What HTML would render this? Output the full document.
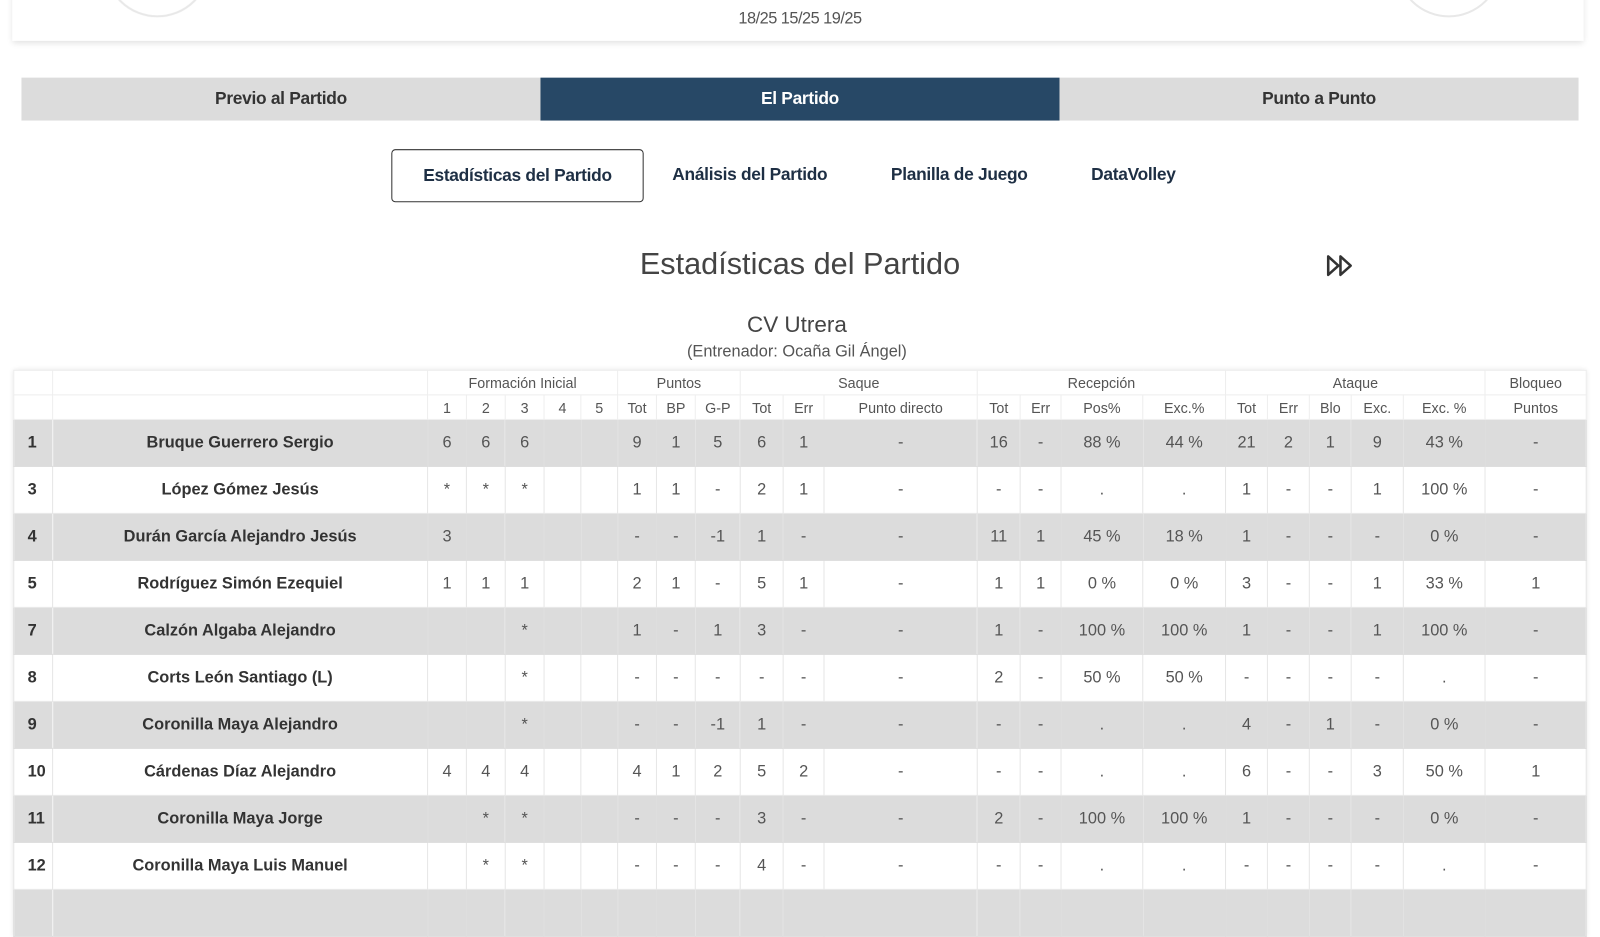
<!DOCTYPE html>
<html><head><meta charset="utf-8">
<style>
body{margin:0;width:1600px;height:900px;overflow:hidden;background:#fff;font-family:"Liberation Sans",sans-serif;position:relative}
#wrap{position:absolute;left:0;top:0;width:1566px;height:881px;transform:scale(1.0217);transform-origin:0 0}
.abs{position:absolute}
.card{left:12px;top:-20px;width:1538px;height:60px;box-shadow:0 2px 6px rgba(0,0,0,.12);background:#fff}
.circ{width:100px;height:100px;border-radius:50%;border:2px solid #e8e8e8;top:-87px;background:#fff}
.score{left:0;width:1566px;top:10px;text-align:center;font-size:16px;color:#555;letter-spacing:-0.5px}
.tabs{left:21px;top:76px;width:1524px;height:42px;display:flex}
.tab{flex:1;background:#dcdcdc;display:flex;align-items:center;justify-content:center;font-weight:bold;font-size:17px;color:#333;letter-spacing:-0.3px}
.tab.act{background:#274866;color:#fff}
.sub{top:146px;height:50px;display:flex;align-items:center;font-size:17px;font-weight:bold;color:#1e2f44;letter-spacing:-0.3px}
.subbtn{left:383px;width:245px;border:1px solid #333;border-radius:4px;justify-content:center}
h1{position:absolute;margin:0;left:0;width:1566px;top:242px;text-align:center;font-weight:normal;font-size:30px;color:#444}
.team{left:0;width:1560px;top:305px;text-align:center;font-size:22px;color:#444}
.coach{left:0;width:1560px;top:336px;text-align:center;font-size:16px;color:#555}
table{position:absolute;left:13px;top:362px;border-collapse:collapse;table-layout:fixed;width:1539px;box-shadow:0 0 5px rgba(0,0,0,.12)}
td{border:1px solid #e6e6e6;text-align:center;color:#555;font-size:16px;padding:0;white-space:nowrap;overflow:hidden}
tr.h td{height:23px;font-size:14px;color:#555;border-color:#eee}
tr.d td{height:45px}
tr.g td{background:#dcdcdc;border-color:#dcdcdc}
tr.g td:first-child{border-right-color:#eee}
td.n{font-weight:bold;color:#333;font-size:16px}
td.num{font-weight:bold;color:#333;text-align:left;padding-left:13px}
</style></head><body>
<div id="wrap">
<div class="abs card"></div>
<div class="abs circ" style="left:102px"></div>
<div class="abs circ" style="left:1366px"></div>
<div class="abs score">18/25 15/25 19/25</div>
<div class="abs tabs">
<div class="tab">Previo al Partido</div>
<div class="tab act">El Partido</div>
<div class="tab">Punto a Punto</div>
</div>
<div class="abs sub subbtn">Estadísticas del Partido</div>
<div class="abs sub" style="left:658px">Análisis del Partido</div>
<div class="abs sub" style="left:872px">Planilla de Juego</div>
<div class="abs sub" style="left:1068px">DataVolley</div>
<h1>Estadísticas del Partido</h1>
<svg class="abs" style="left:1298px;top:249px" width="30" height="22"><path d="M2 2 L12 11 L2 20 Z M14 2 L24 11 L14 20 Z" fill="none" stroke="#333" stroke-width="2.5" stroke-linejoin="round"/></svg>
<div class="abs team">CV Utrera</div>
<div class="abs coach">(Entrenador: Ocaña Gil Ángel)</div>
<table id="t">
<colgroup><col style="width:38px"><col style="width:367px"><col style="width:38px"><col style="width:38px"><col style="width:38px"><col style="width:36px"><col style="width:36px"><col style="width:38px"><col style="width:38px"><col style="width:44px"><col style="width:42px"><col style="width:40px"><col style="width:150px"><col style="width:42px"><col style="width:40px"><col style="width:80px"><col style="width:81px"><col style="width:41px"><col style="width:41px"><col style="width:41px"><col style="width:51px"><col style="width:80px"><col style="width:99px"></colgroup>
<tr class="h"><td></td><td></td><td colspan="5">Formación Inicial</td><td colspan="3">Puntos</td><td colspan="3">Saque</td><td colspan="4">Recepción</td><td colspan="5">Ataque</td><td>Bloqueo</td></tr>
<tr class="h"><td></td><td></td><td>1</td><td>2</td><td>3</td><td>4</td><td>5</td><td>Tot</td><td>BP</td><td>G-P</td><td>Tot</td><td>Err</td><td>Punto directo</td><td>Tot</td><td>Err</td><td>Pos%</td><td>Exc.%</td><td>Tot</td><td>Err</td><td>Blo</td><td>Exc.</td><td>Exc. %</td><td>Puntos</td></tr>
</table>
</div>
<script>
const numbers=["1","3","4","5","7","8","9","10","11","12",""];
const names=["Bruque Guerrero Sergio","López Gómez Jesús","Durán García Alejandro Jesús","Rodríguez Simón Ezequiel","Calzón Algaba Alejandro","Corts León Santiago (L)","Coronilla Maya Alejandro","Cárdenas Díaz Alejandro","Coronilla Maya Jorge","Coronilla Maya Luis Manuel",""];
const formacion=[["6","6","6","",""],["*","*","*","",""],["3","","","",""],["1","1","1","",""],["","","*","",""],["","","*","",""],["","","*","",""],["4","4","4","",""],["","*","*","",""],["","*","*","",""],["","","","",""]];
const puntos=[["9","1","5"],["1","1","-"],["-","-","-1"],["2","1","-"],["1","-","1"],["-","-","-"],["-","-","-1"],["4","1","2"],["-","-","-"],["-","-","-"],["","",""]];
const saque=[["6","1","-"],["2","1","-"],["1","-","-"],["5","1","-"],["3","-","-"],["-","-","-"],["1","-","-"],["5","2","-"],["3","-","-"],["4","-","-"],["","",""]];
const recepcion=[["16","-","88 %","44 %"],["-","-",".","."],["11","1","45 %","18 %"],["1","1","0 %","0 %"],["1","-","100 %","100 %"],["2","-","50 %","50 %"],["-","-",".","."],["-","-",".","."],["2","-","100 %","100 %"],["-","-",".","."],["","","",""]];
const ataque=[["21","2","1","9","43 %"],["1","-","-","1","100 %"],["1","-","-","-","0 %"],["3","-","-","1","33 %"],["1","-","-","1","100 %"],["-","-","-","-","."],["4","-","1","-","0 %"],["6","-","-","3","50 %"],["1","-","-","-","0 %"],["-","-","-","-","."],["","","","",""]];
const bloqueo=["-","-","-","1","-","-","-","1","-","-",""];
const t=document.getElementById('t');
numbers.forEach((n,i)=>{
  const tr=document.createElement('tr');
  tr.className='d'+(i%2===0?' g':'');
  
  
  const vals=[n,names[i]].concat(formacion[i],puntos[i],saque[i],recepcion[i],ataque[i],[bloqueo[i]]);
  vals.forEach((v,j)=>{
    const td=document.createElement('td');
    td.textContent=v;
    if(j===0)td.className='num';
    if(j===1)td.className='n';
    
    
    tr.appendChild(td);
  });
  t.appendChild(tr);
});
</script>
</body></html>
